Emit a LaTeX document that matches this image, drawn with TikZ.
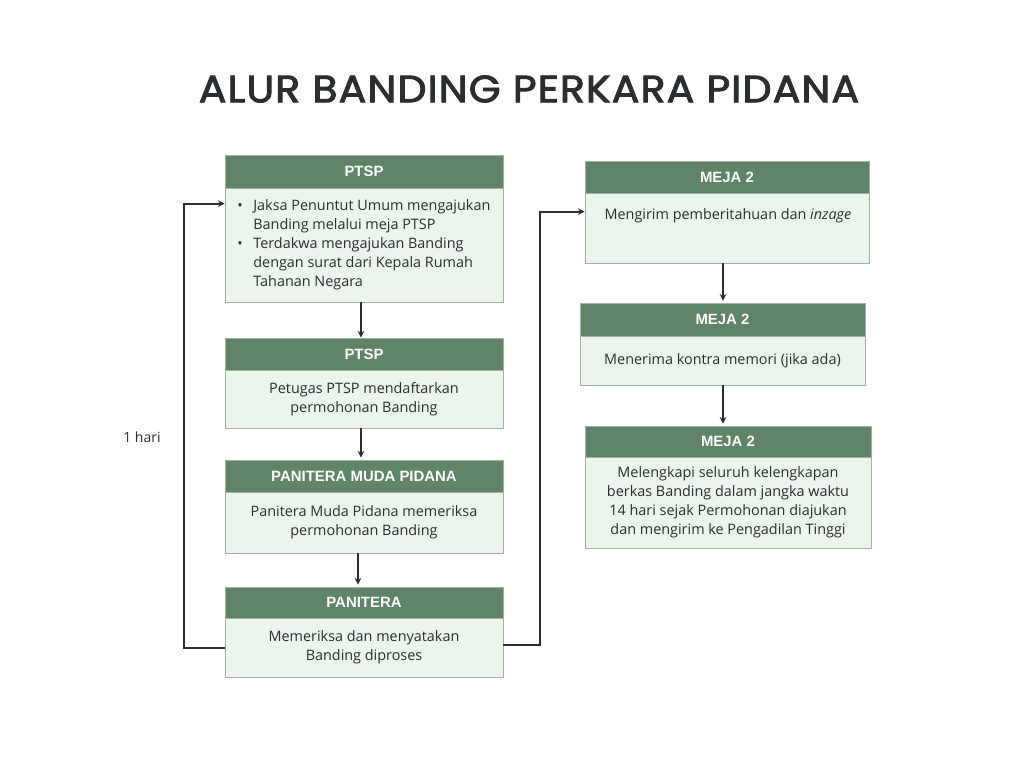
\documentclass[tikz,border=0pt]{standalone}
\usepackage{fontspec}
\setmainfont{Open Sans}
\newfontfamily\titlefont[FakeBold=2.5,FakeStretch=1.08,LetterSpace=3]{Poppins}
\newfontfamily\hdrfont{Liberation Sans}
\usetikzlibrary{fit,calc,arrows.meta}
\definecolor{hdrgreen}{HTML}{5F8468}
\definecolor{bodygreen}{HTML}{EBF5EB}
\definecolor{edgegray}{HTML}{A3AEA5}
\definecolor{inkdark}{HTML}{2B2E31}
\tikzset{
  hdr/.style={draw=edgegray, fill=hdrgreen, inner sep=0pt, line width=0.6pt},
  bodybox/.style={draw=edgegray, fill=bodygreen, inner sep=0pt, line width=0.6pt},
  hdrtext/.style={text=white, font=\hdrfont\bfseries\fontsize{11.2}{12}\selectfont, inner sep=0pt},
  bodytext/.style={text=inkdark, font=\fontsize{10.8}{14.3}\selectfont, align=center, inner sep=0pt},
  arr/.style={draw=inkdark, line width=1.5pt, -{Stealth[length=5pt,width=5pt]}},
}
\begin{document}
\begin{tikzpicture}[x=0.75pt,y=-0.75pt]
\useasboundingbox[fill=white] (0,0) rectangle (1024,768);

\node[text=inkdark, font=\titlefont\fontsize{28.5}{32}\selectfont, inner sep=0pt] (title) at (529,89) {ALUR BANDING PERKARA PIDANA};

% left column
\node[hdr, fit={(225,155)(503,188)}] (h1) {};
\node[hdrtext] (h1t) at (h1.center) {PTSP};
\node[bodybox, fit={(225,188)(503,302)}] (b1) {};
\node[bodytext, align=left, anchor=west] (b1t) at (237,245) {\textbullet\hspace{8pt}Jaksa Penuntut Umum mengajukan\\\phantom{\textbullet}\hspace{8pt}Banding melalui meja PTSP\\\textbullet\hspace{8pt}Terdakwa mengajukan Banding\\\phantom{\textbullet}\hspace{8pt}dengan surat dari Kepala Rumah\\\phantom{\textbullet}\hspace{8pt}Tahanan Negara};

\node[hdr, fit={(225,338)(503,370)}] (h2) {};
\node[hdrtext] (h2t) at (h2.center) {PTSP};
\node[bodybox, fit={(225,370)(503,428)}] (b2) {};
\node[bodytext] (b2t) at (b2.center) {Petugas PTSP mendaftarkan\\permohonan Banding};

\node[hdr, fit={(225,460)(503,492)}] (h3) {};
\node[hdrtext] (h3t) at (h3.center) {PANITERA MUDA PIDANA};
\node[bodybox, fit={(225,492)(503,553)}] (b3) {};
\node[bodytext] (b3t) at (b3.center) {Panitera Muda Pidana memeriksa\\permohonan Banding};

\node[hdr, fit={(225,587)(503,618)}] (h4) {};
\node[hdrtext] (h4t) at (h4.center) {PANITERA};
\node[bodybox, fit={(225,618)(503,677)}] (b4) {};
\node[bodytext] (b4t) at (b4.center) {Memeriksa dan menyatakan\\Banding diproses};

% right column
\node[hdr, fit={(585,161)(869,193)}] (h5) {};
\node[hdrtext] (h5t) at (h5.center) {MEJA 2};
\node[bodybox, fit={(585,193)(869,263)}] (b5) {};
\node[bodytext] (b5t) at (728,216) {Mengirim pemberitahuan dan \textit{inzage}};

\node[hdr, fit={(580,303)(865,336)}] (h6) {};
\node[hdrtext] (h6t) at (h6.center) {MEJA 2};
\node[bodybox, fit={(580,336)(865,385)}] (b6) {};
\node[bodytext] (b6t) at (b6.center) {Menerima kontra memori (jika ada)};

\node[hdr, fit={(585,426)(871,457)}] (h7) {};
\node[hdrtext] (h7t) at (h7.center) {MEJA 2};
\node[bodybox, fit={(585,457)(871,548)}] (b7) {};
\node[bodytext] (b7t) at (b7.center) {Melengkapi seluruh kelengkapan\\berkas Banding dalam jangka waktu\\14 hari sejak Permohonan diajukan\\dan mengirim ke Pengadilan Tinggi};

\node[text=inkdark, font=\fontsize{10.5}{12}\selectfont, inner sep=0pt] (lbl) at (142,437) {1 hari};

% connectors
\draw[arr] ($(b1.south)+(-3,0)$) -- ($(h2.north)+(-3,0)$);
\draw[arr] ($(b2.south)+(-3,0)$) -- ($(h3.north)+(-3,-2)$);
\draw[arr] ($(b3.south)+(-6,0)$) -- ($(h4.north)+(-6,-2)$);
\draw[arr] ($(b5.south)+(-4,0)$) -- ($(h6.north)+(0.5,-2)$);
\draw[arr] ($(b6.south)+(0.5,0)$) -- ($(h7.north)+(-5,-2)$);
\coordinate (loopL) at (184,648);
\coordinate (loopR) at (540,645);
\draw[arr] ($(b4.west)+(0,0.5)$) -- (loopL) |- ($(b1.north west)+(0,16)$);
\draw[arr] ($(b4.east)+(0,-2.5)$) -- (loopR) |- ($(b5.north west)+(0,19)$);
\end{tikzpicture}
\end{document}
